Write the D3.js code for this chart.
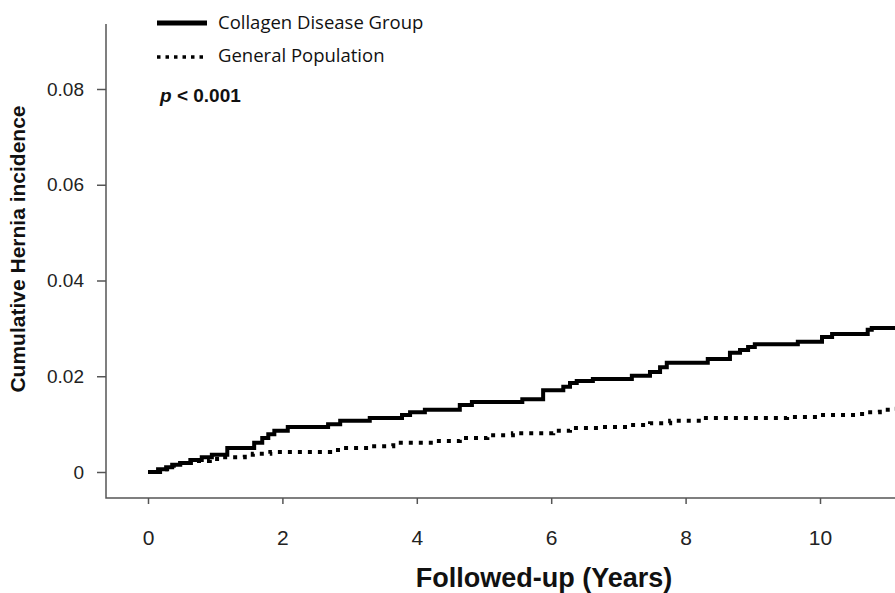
<!DOCTYPE html>
<html>
<head>
<meta charset="utf-8">
<script src="https://cdn.jsdelivr.net/npm/d3@7/dist/d3.min.js"></script>
<style>
  body { margin: 0; background: #fff; }
  svg { display: block; }
</style>
</head>
<body>
<div id="chart"></div>
<script>
// step points (years, cumulative incidence)
const collagenTime = [0, 0.15, 0.27, 0.36, 0.48, 0.63, 0.80, 0.95, 1.18, 1.58, 1.70, 1.79, 1.88, 2.08, 2.68, 2.86, 3.30, 3.78, 3.90, 4.12, 4.64, 4.82, 5.57, 5.88, 6.18, 6.28, 6.38, 6.62, 7.20, 7.47, 7.62, 7.72, 8.33, 8.66, 8.81, 8.93, 9.03, 9.67, 10.03, 10.18, 10.71, 10.77, 11.3];
const collagenInc = [0, 0.0006, 0.0010, 0.0015, 0.0019, 0.0025, 0.0031, 0.0036, 0.0050, 0.0061, 0.0071, 0.0079, 0.0086, 0.0094, 0.0100, 0.0107, 0.0113, 0.0119, 0.0125, 0.0130, 0.0140, 0.0146, 0.0152, 0.0171, 0.0178, 0.0186, 0.0190, 0.0194, 0.0201, 0.0209, 0.0219, 0.0228, 0.0236, 0.0249, 0.0255, 0.0261, 0.0267, 0.0272, 0.0282, 0.0288, 0.0297, 0.0301, 0.0301];

const generalTime = [0, 0.18, 0.33, 0.48, 0.67, 0.92, 1.10, 1.44, 1.56, 1.82, 2.71, 2.90, 3.30, 3.65, 4.24, 4.64, 5.05, 5.43, 6.03, 6.28, 6.77, 7.13, 7.47, 7.77, 8.26, 9.51, 10.00, 10.55, 10.69, 10.89, 11.04, 11.3];
const generalInc = [0, 0.0006, 0.0013, 0.0019, 0.0023, 0.0027, 0.0031, 0.0036, 0.0038, 0.0042, 0.0046, 0.0050, 0.0054, 0.0061, 0.0065, 0.0071, 0.0077, 0.0081, 0.0086, 0.0092, 0.0094, 0.0098, 0.0102, 0.0107, 0.0113, 0.0115, 0.0119, 0.0121, 0.0125, 0.0130, 0.0132, 0.0134];

const xTicks = [0, 2, 4, 6, 8, 10];
const yTicks = [0, 0.02, 0.04, 0.06, 0.08];
const legendLabels = ["Collagen Disease Group", "General Population"];

const width = 895, height = 593;

const svg = d3.select("#chart").append("svg")
  .attr("width", width)
  .attr("height", height);

const x = d3.scaleLinear().domain([0, 10]).range([148, 820]);
const y = d3.scaleLinear().domain([0, 0.08]).range([472, 89]);

const axisLeftX = 106, axisBottomY = 498;
const axisColor = "#555";

// axis frame (L shape)
svg.append("path")
  .attr("d", `M${axisLeftX},24V${axisBottomY}H${width}`)
  .attr("fill", "none")
  .attr("stroke", axisColor)
  .attr("stroke-width", 1.5);

const yAxis = svg.append("g")
  .attr("transform", `translate(${axisLeftX},0)`)
  .call(d3.axisLeft(y).tickValues(yTicks).tickSize(9).tickPadding(13)
    .tickFormat(d => d === 0 ? "0" : d3.format(".2f")(d)));
yAxis.select(".domain").remove();
yAxis.selectAll("line").attr("stroke", axisColor).attr("stroke-width", 1.5);
yAxis.selectAll("text")
  .attr("font-family", "Liberation Sans, Arial, sans-serif")
  .attr("font-size", 19)
  .attr("fill", "#222");

const xAxis = svg.append("g")
  .attr("transform", `translate(0,${axisBottomY})`)
  .call(d3.axisBottom(x).tickValues(xTicks).tickSize(6).tickPadding(26));
xAxis.select(".domain").remove();
xAxis.selectAll("line").attr("stroke", axisColor).attr("stroke-width", 1.5);
xAxis.selectAll("text")
  .attr("font-family", "Liberation Sans, Arial, sans-serif")
  .attr("font-size", 21)
  .attr("fill", "#222");

// axis titles
svg.append("text")
  .attr("x", 544)
  .attr("y", 587)
  .attr("text-anchor", "middle")
  .attr("font-family", "Liberation Sans, Arial, sans-serif")
  .attr("font-weight", "bold")
  .attr("font-size", 27)
  .attr("fill", "#111")
  .text("Followed-up (Years)");

svg.append("text")
  .attr("transform", "translate(25,249) rotate(-90)")
  .attr("text-anchor", "middle")
  .attr("font-family", "Liberation Sans, Arial, sans-serif")
  .attr("font-weight", "bold")
  .attr("font-size", 21)
  .attr("fill", "#111")
  .text("Cumulative Hernia incidence");

// curves
const line = d3.line()
  .x(d => x(d[0]))
  .y(d => y(d[1]))
  .curve(d3.curveStepAfter);

svg.append("path")
  .datum(d3.zip(generalTime, generalInc))
  .attr("d", line)
  .attr("fill", "none")
  .attr("stroke", "#000")
  .attr("stroke-width", 4)
  .attr("stroke-dasharray", "4,6");

svg.append("path")
  .datum(d3.zip(collagenTime, collagenInc))
  .attr("d", line)
  .attr("fill", "none")
  .attr("stroke", "#000")
  .attr("stroke-width", 4);

// legend
const legend = svg.append("g");
legend.append("line")
  .attr("x1", 157).attr("x2", 207).attr("y1", 23).attr("y2", 23)
  .attr("stroke", "#000").attr("stroke-width", 5);
legend.append("line")
  .attr("x1", 157).attr("x2", 208).attr("y1", 57).attr("y2", 57)
  .attr("stroke", "#000").attr("stroke-width", 3.5)
  .attr("stroke-dasharray", "3.5,5");
legend.selectAll("text.lab")
  .data(legendLabels)
  .join("text")
  .attr("class", "lab")
  .attr("x", 218)
  .attr("y", (d, i) => 29 + i * 33)
  .attr("font-family", "Open Sans, sans-serif")
  .attr("font-size", 18.5)
  .attr("fill", "#111")
  .text(d => d);

const pText = svg.append("text")
  .attr("x", 160)
  .attr("y", 102)
  .attr("font-family", "Liberation Sans, Arial, sans-serif")
  .attr("font-weight", "bold")
  .attr("font-size", 19)
  .attr("fill", "#111");
pText.append("tspan").attr("font-style", "italic").text("p");
pText.append("tspan").text(" < 0.001");
</script>
</body>
</html>
